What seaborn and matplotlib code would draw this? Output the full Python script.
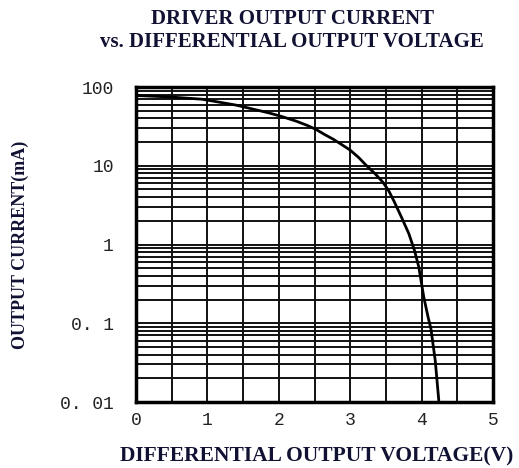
import matplotlib
matplotlib.use("Agg")
import matplotlib.pyplot as plt
import numpy as np
import pandas as pd
import seaborn as sns
from matplotlib.ticker import FixedLocator, LogLocator, NullFormatter

# curve
voltage = [0.0, 0.46, 0.93, 1.40, 1.86, 2.05, 2.24, 2.40, 2.52, 2.64, 2.76,
           2.88, 3.0, 3.12, 3.23, 3.35, 3.46, 3.54, 3.61, 3.72, 3.82, 3.90,
           3.96, 4.03, 4.09, 4.13, 4.19, 4.24]
current = [78, 75, 70, 59, 47, 42, 37, 32.5, 29, 25, 21.8,
           18.6, 15.8, 12.7, 10, 7.9, 6.15, 4.8, 3.6, 2.2, 1.38, 0.84,
           0.52, 0.215, 0.12, 0.085, 0.034, 0.0105]

y_ticks = [100, 10, 1, 0.1, 0.01]
y_labels = ["100", "10", "1", "0. 1", "0. 01"]
x_ticks = [0, 1, 2, 3, 4, 5]

df = pd.DataFrame({"V": voltage, "I": current})

sns.set_theme(style="white")
plt.rcParams['font.family'] = ['Liberation Mono', 'DejaVu Sans']

fig = plt.figure(figsize=(5.19, 4.68), dpi=100)
ax = fig.add_axes([0.262, 0.141, 0.688, 0.673])

sns.lineplot(data=df, x="V", y="I", color="black", linewidth=2, ax=ax)
ax.set_yscale("log")
ax.set_xlim(0, 5)
ax.set_ylim(0.01, 100)

ax.set_xticks(x_ticks)
ax.set_xticklabels([str(t) for t in x_ticks])
ax.xaxis.set_minor_locator(FixedLocator(np.arange(0.5, 5, 1.0)))
ax.set_yticks(y_ticks)
ax.set_yticklabels(y_labels)
ax.yaxis.set_minor_locator(LogLocator(base=10, subs=np.arange(2, 10)))
ax.yaxis.set_minor_formatter(NullFormatter())

ax.grid(True, which="both", color="#111111", linewidth=1.4)
ax.tick_params(which="both", length=0, labelsize=13, colors="#222222")
ax.tick_params(axis="y", pad=16)
ax.tick_params(axis="x", pad=7)
for s in ax.spines.values():
    s.set_color("black")
    s.set_linewidth(2.5)

serif = ['Liberation Serif', 'DejaVu Serif']
ax.set_xlabel("DIFFERENTIAL OUTPUT VOLTAGE(V)", family=serif, fontweight="bold",
              fontsize=15.5, color="#111133")
ax.xaxis.set_label_coords(0.507, -0.14)
ax.set_ylabel("OUTPUT CURRENT(mA)", family=serif, fontweight="bold",
              fontsize=13, color="#111133")
ax.yaxis.set_label_coords(-0.30, 0.5)
fig.text(0.563, 0.935, "DRIVER OUTPUT CURRENT\nvs. DIFFERENTIAL OUTPUT VOLTAGE",
         family=serif, fontweight="bold", fontsize=15, color="#111133",
         ha="center", va="center", linespacing=1.25)

fig.savefig("out.png", dpi=100)
